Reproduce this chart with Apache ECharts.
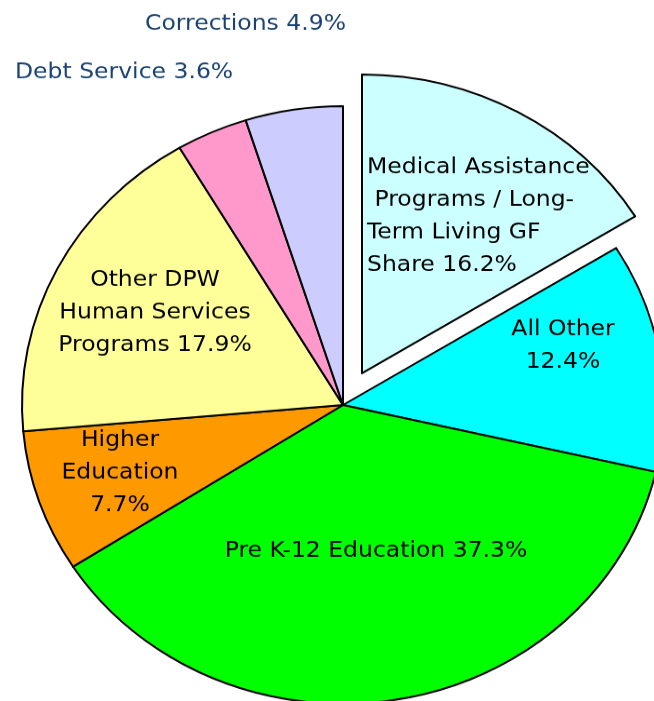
<!DOCTYPE html>
<html>
<head>
    <meta charset="utf-8" />
    <title>General Fund Budget</title>
    <script src="https://cdn.jsdelivr.net/npm/echarts@6/dist/echarts.min.js"></script>
    <style>
        html, body { margin: 0; padding: 0; background: #fff; overflow: hidden; }
        /* the original pie is slightly squashed, so the chart is drawn taller and scaled down */
        #budgetPie { width: 654px; height: 753px; transform: scaleY(0.931); transform-origin: 0 0; }
    </style>
    <script type="text/javascript">
        var categories = [
            'Medical Assistance\n Programs / Long-\nTerm Living GF\nShare',
            'All Other',
            'Pre K-12 Education',
            'Higher\nEducation',
            'Other DPW\nHuman Services\nPrograms',
            'Debt Service',
            'Corrections'
        ];
        var shares = [16.2, 12.4, 37.3, 7.7, 17.9, 3.6, 4.9];
        var sliceColors = ['#ccffff', '#00ffff', '#00ff00', '#ff9900', '#ffff99', '#ff99cc', '#ccccff'];
        // text joined to the value: space or line break
        var joiners = [' ', '\n', ' ', '\n', ' ', ' ', ' '];
        var explodedIndex = 0;

        // where each label sits (pixel coords in the unscaled chart)
        var labelSpots = [
            { x: 367, y: 232, align: 'left' },
            { x: 563, y: 371, align: 'center' },
            { x: 376, y: 592, align: 'center' },
            { x: 120, y: 508, align: 'center' },
            { x: 155, y: 336, align: 'center' },
            { x: 15, y: 78, align: 'left' },
            { x: 145, y: 26, align: 'left' }
        ];

        var pieCenter = [343, 435];
        var pieRadius = 321;
        var explodeDist = 39;

        function buildData(showExploded) {
            return categories.map(function (name, i) {
                var visible = (i === explodedIndex) === showExploded;
                var item = {
                    name: name,
                    value: shares[i],
                    itemStyle: visible
                        ? { color: sliceColors[i], borderColor: '#000', borderWidth: 2 }
                        : { color: 'rgba(0,0,0,0)', borderWidth: 0 },
                    label: {
                        show: visible,
                        formatter: name + joiners[i] + shares[i].toFixed(1) + '%',
                        align: labelSpots[i].align
                    }
                };
                if (i >= 5) {
                    item.label.color = '#1a4373';
                }
                return item;
            });
        }

        function renderBudgetPie() {
            var chartDom = document.getElementById('budgetPie');
            var pieChart = echarts.init(chartDom);

            // push the exploded slice out along its middle angle
            var total = shares.reduce(function (a, b) { return a + b; }, 0);
            var before = 0;
            for (var k = 0; k < explodedIndex; k++) before += shares[k];
            var midAngle = (before + shares[explodedIndex] / 2) / total * 2 * Math.PI;
            var explodedCenter = [
                pieCenter[0] + explodeDist * Math.sin(midAngle),
                pieCenter[1] - explodeDist * Math.cos(midAngle)
            ];

            var labelOpts = {
                show: true,
                position: 'inside',
                color: '#000',
                fontFamily: 'DejaVu Sans',
                fontSize: 23.5,
                lineHeight: 35
            };
            var placeLabel = function (params) {
                var spot = labelSpots[params.dataIndex];
                return { x: spot.x, y: spot.y, align: spot.align, verticalAlign: 'middle' };
            };

            var option = {
                animation: false,
                series: [
                    {
                        type: 'pie',
                        center: pieCenter,
                        radius: pieRadius,
                        startAngle: 90,
                        clockwise: true,
                        avoidLabelOverlap: false,
                        silent: true,
                        label: labelOpts,
                        labelLine: { show: false },
                        labelLayout: placeLabel,
                        data: buildData(false)
                    },
                    {
                        type: 'pie',
                        center: explodedCenter,
                        radius: pieRadius,
                        startAngle: 90,
                        clockwise: true,
                        avoidLabelOverlap: false,
                        silent: true,
                        label: labelOpts,
                        labelLine: { show: false },
                        labelLayout: placeLabel,
                        data: buildData(true)
                    }
                ]
            };
            option && pieChart.setOption(option);
        }
    </script>
</head>
<body>
    <div id="budgetPie"></div>
    <script type="text/javascript">
        renderBudgetPie();
    </script>
</body>
</html>
